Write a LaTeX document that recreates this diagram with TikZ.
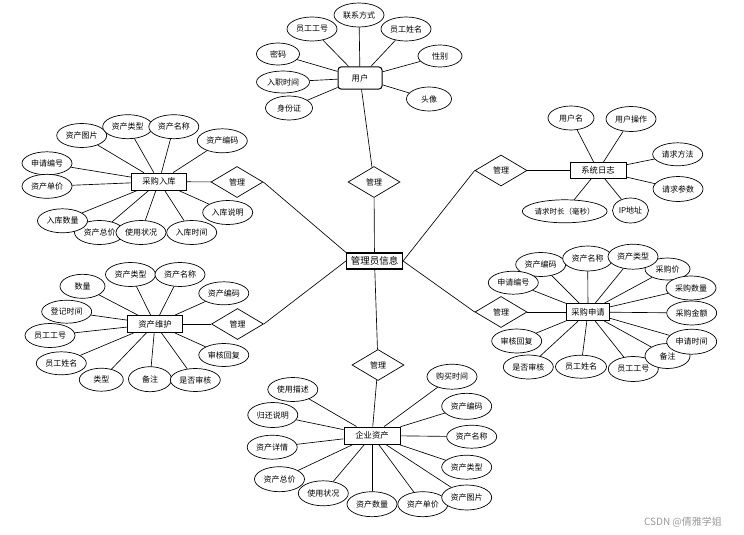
\documentclass[tikz,border=0pt]{standalone}
\usepackage{fontspec}
\newfontfamily\cnfont{Noto Sans CJK SC}
\usetikzlibrary{shapes.geometric}
\newcommand\attrfont{\cnfont\fontsize{8pt}{9pt}\selectfont}
\newcommand\entfont{\cnfont\fontsize{8.3pt}{9pt}\selectfont}
\definecolor{mark}{HTML}{9A9A9A}

\begin{document}
\begin{tikzpicture}[x=1pt,y=-1pt,attr/.style={ellipse,draw=black,fill=white,line width=0.7pt,minimum width=50pt,minimum height=24pt,inner sep=0pt,font=\attrfont},ent/.style={rectangle,draw=black,fill=white,line width=1pt,minimum width=55pt,minimum height=17pt,inner sep=0pt,font=\entfont},rel/.style={diamond,draw=black,fill=white,line width=0.7pt,minimum width=52pt,minimum height=31pt,inner sep=0pt,font=\attrfont},link/.style={line width=0.65pt,draw=black}]
\useasboundingbox (0,0) rectangle (744,535);
% centre
\node[ent,minimum width=56pt,minimum height=16pt,line width=1.2pt,font=\cnfont\fontsize{9.5pt}{11pt}\selectfont] (admin) at (374.5,261) {管理员信息};
\node[rel] (rtop) at (374,182) {管理};
\node[rel] (rbot) at (378,365) {管理};
\node[rel] (rlu) at (237,182) {管理};
\node[rel] (rld) at (237.5,324) {管理};
\node[rel] (rru) at (501,170.5) {管理};
\node[rel] (rrd) at (501,312) {管理};
% user
\node[ent,rounded corners=3pt,minimum width=44pt,minimum height=22pt] (user) at (360,78) {用户};
\node[attr] (uid) at (312,29) {员工工号};
\node[attr] (utel) at (359,15) {联系方式};
\node[attr] (uname) at (406,29) {员工姓名};
\node[attr,minimum width=43pt,minimum height=22pt] (upwd) at (278,54) {密码};
\node[attr,minimum width=53pt,minimum height=22pt] (udate) at (283,82) {入职时间};
\node[attr,minimum width=47pt] (ucard) at (289,108) {身份证};
\node[attr,minimum width=44pt,minimum height=22pt] (usex) at (440,56) {性别};
\node[attr,minimum width=45pt] (uimg) at (429,99) {头像};
% purchase in
\node[ent] (cgrk) at (159,181.7) {采购入库};
\node[attr] (rkzj) at (99.5,232.5) {资产总价};
\node[attr] (rktp) at (81.7,135.5) {资产图片};
\node[attr] (rklx) at (127.7,126.7) {资产类型};
\node[attr] (rkmc) at (173.8,126.7) {资产名称};
\node[attr] (rkbm) at (222.3,140.8) {资产编码};
\node[attr,minimum height=23pt] (rksq) at (47,163.3) {申请编号};
\node[attr] (rkdj) at (47,186.3) {资产单价};
\node[attr] (rksl) at (62.5,220.8) {入库数量};
\node[attr] (rkzk) at (141,232.5) {使用状况};
\node[attr] (rksj) at (191.7,232.5) {入库时间};
\node[attr] (rksm) at (227.7,212.5) {入库说明};
% upkeep
\node[ent] (zcwh) at (155,324) {资产维护};
\node[attr,minimum width=45pt] (whsl) at (82.5,286.3) {数量};
\node[attr] (whlx) at (130.5,274.5) {资产类型};
\node[attr] (whmc) at (180,274.5) {资产名称};
\node[attr,minimum height=23pt] (whbm) at (223.8,293.3) {资产编码};
\node[attr,minimum height=23pt] (whdj) at (66.7,311.7) {登记时间};
\node[attr] (whgh) at (50,335.5) {员工工号};
\node[attr,minimum height=23pt] (whxm) at (61.3,363.3) {员工姓名};
\node[attr,minimum width=44pt,minimum height=23pt] (whlb) at (101.3,379.7) {类型};
\node[attr,minimum width=43pt,minimum height=25pt] (whbz) at (150,379.2) {备注};
\node[attr,minimum height=23pt] (whsh) at (195.3,380) {是否审核};
\node[attr,minimum height=23pt] (whhf) at (223.8,355) {审核回复};
% log
\node[ent,minimum width=56pt,minimum height=16pt] (xtrz) at (598,170.5) {系统日志};
\node[attr,minimum width=46pt] (rzyh) at (571,118) {用户名};
\node[attr,minimum height=25pt] (rzcz) at (631,119) {用户操作};
\node[attr,minimum height=23pt] (rzff) at (677.7,154.3) {请求方法};
\node[attr,minimum height=25pt] (rzcs) at (678,189) {请求参数};
\node[attr,minimum width=84pt,minimum height=23pt,font=\cnfont\fontsize{7.5pt}{9pt}\selectfont] (rzsc) at (564.7,211.3) {请求时长（毫秒）};
\node[attr,minimum width=36pt,minimum height=25pt] (rzip) at (630.5,210.5) {IP地址};
% purchase request
\node[ent,minimum width=43pt] (cgsq) at (588,312) {采购申请};
\node[attr] (sqbm) at (540.7,264.5) {资产编码};
\node[attr,minimum height=23pt] (sqbh) at (513.3,282.7) {申请编号};
\node[attr,minimum height=25pt] (sqmc) at (587.7,258.5) {资产名称};
\node[attr,minimum width=45pt,minimum height=22pt] (sqjg) at (667.5,269) {采购价};
\node[attr,minimum height=25pt] (sqlx) at (633,256.7) {资产类型};
\node[attr] (sqsl) at (691,288) {采购数量};
\node[attr] (sqje) at (691.7,313) {采购金额};
\node[attr,minimum height=25pt] (sqgh) at (633.3,369) {员工工号};
\node[attr,minimum width=45pt,minimum height=25pt] (sqbz) at (667.5,356) {备注};
\node[attr,minimum height=25pt] (sqsj) at (691.7,341.7) {申请时间};
\node[attr] (sqhf) at (516.7,341) {审核回复};
\node[attr] (sqsh) at (528.3,367) {是否审核};
\node[attr,minimum width=51pt,minimum height=23pt] (sqxm) at (581,366.7) {员工姓名};
% assets
\node[ent,minimum width=56pt] (qyzc) at (372,435.5) {企业资产};
\node[attr] (zcms) at (292.8,389.5) {使用描述};
\node[attr,minimum height=25pt] (zcgh) at (272.8,415) {归还说明};
\node[attr] (zcxq) at (272.2,447.2) {资产详情};
\node[attr,minimum height=25pt] (zczj) at (279.5,479.2) {资产总价};
\node[attr,minimum height=25pt] (zczk) at (323.3,493.3) {使用状况};
\node[attr,minimum height=25pt] (zcsl) at (372,504.2) {资产数量};
\node[attr,minimum height=25pt] (zcdj) at (422.8,504.2) {资产单价};
\node[attr,minimum height=25pt] (zctp) at (466.7,497.5) {资产图片};
\node[attr] (zclx) at (466.7,467.2) {资产类型};
\node[attr,minimum height=23pt] (zcmc) at (471.7,436.7) {资产名称};
\node[attr,minimum height=26pt] (zcbm) at (466.7,406.3) {资产编码};
\node[attr,minimum height=25pt] (zcsj) at (452,376.7) {购买时间};
\node[font=\cnfont\fontsize{10pt}{12pt}\selectfont,text=mark] (credit) at (683,522) {CSDN @倩雅学姐};
% relations
\draw[link] (user)--(rtop);\draw[link] (rtop)--(admin);
\draw[link] (admin)--(rbot);\draw[link] (rbot)--(qyzc);
\draw[link] (cgrk)--(rlu);\draw[link] (rlu.east)--(admin.north west);
\draw[link] (zcwh)--(rld);\draw[link] (rld.east)--(admin.west);
\draw[link] (xtrz)--(rru);\draw[link] (rru.west)--(admin.east);
\draw[link] (cgsq)--(rrd);\draw[link] (rrd.west)--(admin.east);
% attributes
\draw[link] (user)--(uid);\draw[link] (user)--(utel);\draw[link] (user)--(uname);\draw[link] (user)--(upwd);
\draw[link] (user)--(udate);\draw[link] (user)--(ucard);\draw[link] (user)--(usex);\draw[link] (user)--(uimg);
\draw[link] (cgrk)--(rkzj);\draw[link] (cgrk)--(rktp);\draw[link] (cgrk)--(rklx);\draw[link] (cgrk)--(rkmc);
\draw[link] (cgrk)--(rkbm);\draw[link] (cgrk)--(rksq);\draw[link] (cgrk)--(rkdj);\draw[link] (cgrk)--(rksl);
\draw[link] (cgrk)--(rkzk);\draw[link] (cgrk)--(rksj);\draw[link] (cgrk)--(rksm);
\draw[link] (zcwh)--(whsl);\draw[link] (zcwh)--(whlx);\draw[link] (zcwh)--(whmc);\draw[link] (zcwh)--(whbm);
\draw[link] (zcwh)--(whdj);\draw[link] (zcwh)--(whgh);\draw[link] (zcwh)--(whxm);\draw[link] (zcwh)--(whlb);
\draw[link] (zcwh)--(whbz);\draw[link] (zcwh)--(whsh);\draw[link] (zcwh)--(whhf);
\draw[link] (xtrz)--(rzyh);\draw[link] (xtrz)--(rzcz);\draw[link] (xtrz)--(rzff);
\draw[link] (xtrz)--(rzcs);\draw[link] (xtrz)--(rzsc);\draw[link] (xtrz)--(rzip);
\draw[link] (cgsq)--(sqbm);\draw[link] (cgsq)--(sqbh);\draw[link] (cgsq)--(sqmc);\draw[link] (cgsq)--(sqjg);
\draw[link] (cgsq)--(sqlx);\draw[link] (cgsq)--(sqsl);\draw[link] (cgsq)--(sqje);\draw[link] (cgsq)--(sqgh);
\draw[link] (cgsq)--(sqbz);\draw[link] (cgsq)--(sqsj);\draw[link] (cgsq)--(sqhf);\draw[link] (cgsq)--(sqsh);
\draw[link] (cgsq)--(sqxm);
\draw[link] (qyzc)--(zcms);\draw[link] (qyzc)--(zcgh);\draw[link] (qyzc)--(zcxq);\draw[link] (qyzc)--(zczj);
\draw[link] (qyzc)--(zczk);\draw[link] (qyzc)--(zcsl);\draw[link] (qyzc)--(zcdj);\draw[link] (qyzc)--(zctp);
\draw[link] (qyzc)--(zclx);\draw[link] (qyzc)--(zcmc);\draw[link] (qyzc)--(zcbm);\draw[link] (qyzc)--(zcsj);
\end{tikzpicture}
\end{document}
